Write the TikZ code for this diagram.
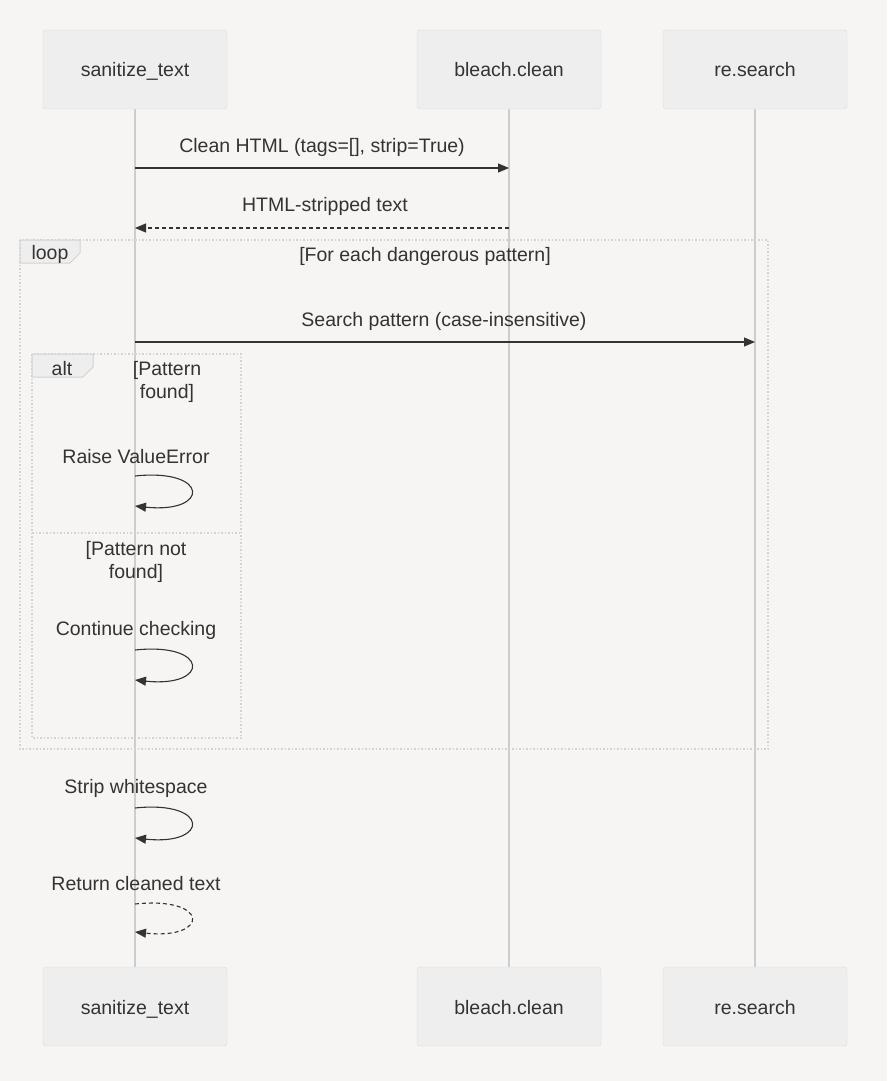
\documentclass[tikz,border=0pt]{standalone}
\usepackage{fontspec}
\setmainfont{Liberation Sans}
\usetikzlibrary{arrows.meta,positioning,calc}
\definecolor{bg}{HTML}{F6F5F4}
\definecolor{ink}{HTML}{333333}
\definecolor{boxfill}{HTML}{EEEEEE}
\definecolor{boxline}{HTML}{DADADA}
\definecolor{lifeline}{HTML}{CDCDCD}
\definecolor{frameline}{HTML}{D2D2D2}
\tikzset{
  actor/.style={draw=boxline,fill=boxfill,rounded corners=3pt,minimum width=184pt,minimum height=79pt,text height=1.5em,text depth=0pt,font=\fontsize{19.5}{23}\selectfont,text=ink},
  life/.style={draw=lifeline,line width=1.6pt},
  msg/.style={-{Triangle[length=11pt,width=9pt]},line width=1.1pt,draw=ink},
  reply/.style={msg,dash pattern=on 4pt off 3pt},
  lbl/.style={font=\fontsize{19.5}{23}\selectfont,text=ink,align=center,inner sep=0pt},
  grp/.style={draw=frameline,line width=1.5pt,dash pattern=on 1.5pt off 2pt},
  tab/.style={fill=boxfill,draw=frameline,line width=1pt}
}
\begin{document}
\begin{tikzpicture}[x=1pt,y=-1pt]
  \useasboundingbox[fill=bg] (0,0) rectangle (887,1081);
  % actors, top and bottom
  \node[actor] (st) at (135,69.5) {sanitize\_text};
  \node[actor] (bc) at (509,69.5) {bleach.clean};
  \node[actor] (rs) at (755,69.5) {re.search};
  \node[actor] (st2) at (135,1006.5) {sanitize\_text};
  \node[actor] (bc2) at (509,1006.5) {bleach.clean};
  \node[actor] (rs2) at (755,1006.5) {re.search};
  \draw[life] (st.south) -- (st2.north);
  \draw[life] (bc.south) -- (bc2.north);
  \draw[life] (rs.south) -- (rs2.north);

  % frames
  \draw[grp] (20,240) rectangle (768,749);
  \filldraw[tab] (20,240) -- (80,240) -- (80,253) -- (70,263) -- (20,263) -- cycle;
  \node[lbl] (looptag) at (50,254) {loop};
  \node[lbl] (loopcond) at (425,256) {[For each dangerous pattern]};
  \draw[grp] (32,354) rectangle (241,738);
  \filldraw[tab] (32,354) -- (93,354) -- (93,367) -- (83,377) -- (32,377) -- cycle;
  \node[lbl] (alttag) at (62,369) {alt};
  \node[lbl] (altyes) at (167,382) {[Pattern\\found]};
  \draw[grp] (32,533) -- (241,533);
  \node[lbl] (altno) at (136,562) {[Pattern not\\found]};

  % messages
  \node[lbl] (m1) at (322,147) {Clean HTML (tags=[], strip=True)};
  \draw[msg] (st.south |- 0,168) -- (bc.south |- 0,168);
  \node[lbl] (m2) at (325,206) {HTML-stripped text};
  \draw[reply] (bc.south |- 0,228) -- (st.south |- 0,228);
  \node[lbl] (m3) at (444,321) {Search pattern (case-insensitive)};
  \draw[msg] (st.south |- 0,342) -- (rs.south |- 0,342);

  % self calls
  \node[lbl] (m4) at (136,457) {Raise ValueError};
  \draw[msg] (st.south |- 0,476) .. controls (210,468) and (210,514) .. (st.south |- 0,506);
  \node[lbl] (m5) at (136,630) {Continue checking};
  \draw[msg] (st.south |- 0,650) .. controls (210,642) and (210,688) .. (st.south |- 0,680);
  \node[lbl] (m6) at (136,788) {Strip whitespace};
  \draw[msg] (st.south |- 0,808) .. controls (210,800) and (210,846) .. (st.south |- 0,838);
  \node[lbl] (m7) at (136,884) {Return cleaned text};
  \draw[reply] (st.south |- 0,904) .. controls (210,896) and (210,940) .. (st.south |- 0,932);
\end{tikzpicture}
\end{document}
